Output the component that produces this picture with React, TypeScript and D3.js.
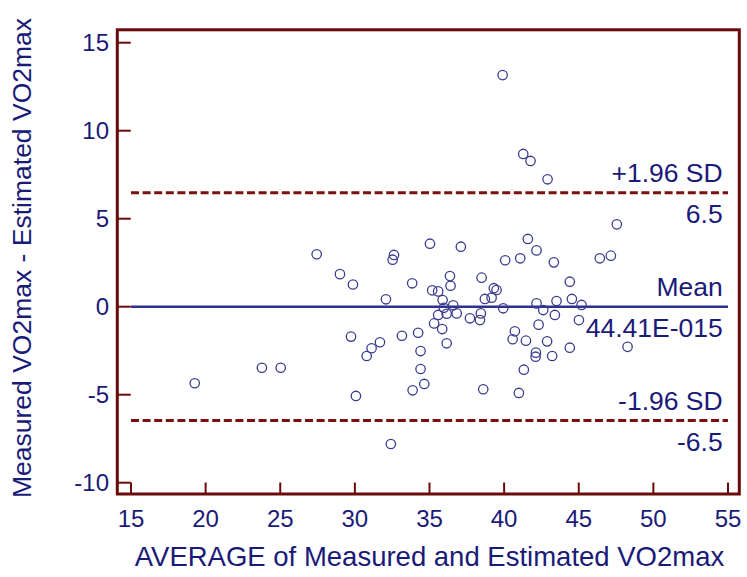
import React from "react";
import * as d3 from "d3";

const meanX: number[] = [39.9, 41.28, 41.77, 42.91, 47.55, 35.03, 37.1, 41.59, 42.17, 40.07, 41.08, 43.33, 46.41, 47.15, 33.84, 36.37, 36.41, 38.49, 35.18, 35.58, 35.88, 36.59, 39.31, 39.49, 38.71, 39.16, 39.94, 44.4, 42.17, 43.51, 44.54, 45.19, 42.62, 43.4, 45.01, 33.15, 34.24, 35.31, 35.85, 35.58, 36.15, 36.82, 37.71, 38.38, 38.44, 36.15, 40.72, 40.57, 41.46, 42.31, 42.88, 44.4, 48.27, 34.4, 34.4, 33.87, 34.65, 38.6, 40.99, 41.32, 42.13, 42.11, 43.22, 29.0, 29.87, 32.53, 32.62, 32.08, 35.96, 29.74, 31.68, 31.12, 30.79, 27.44, 23.77, 25.03, 19.27, 30.07, 32.41];
const diffY: number[] = [13.16, 8.68, 8.28, 7.24, 4.68, 3.58, 3.41, 3.85, 3.2, 2.64, 2.75, 2.52, 2.75, 2.9, 1.33, 1.74, 1.19, 1.65, 0.93, 0.87, 0.38, 0.08, 1.05, 0.95, 0.44, 0.51, -0.09, 1.42, 0.19, 0.32, 0.44, 0.1, -0.19, -0.47, -0.76, -1.65, -1.48, -0.95, -1.27, -0.47, -0.4, -0.38, -0.66, -0.76, -0.38, -2.08, -1.4, -1.85, -1.93, -1.02, -1.97, -2.33, -2.28, -2.52, -3.54, -4.75, -4.39, -4.69, -4.9, -3.58, -2.61, -2.84, -2.8, 1.85, 1.26, 2.67, 2.94, 0.42, -0.06, -1.7, -2.02, -2.36, -2.8, 2.98, -3.47, -3.47, -4.35, -5.07, -7.8];

const xTicks: number[] = [15, 20, 25, 30, 35, 40, 45, 50, 55];
const yTicks: number[] = [-10, -5, 0, 5, 10, 15];

const meanValue = 0;
const upperLoA = 6.47;
const lowerLoA = -6.47;
const refLabels = [
  { value: upperLoA, above: "+1.96 SD", below: "6.5", kind: "sd" },
  { value: meanValue, above: "Mean", below: "44.41E-015", kind: "mean" },
  { value: lowerLoA, above: "-1.96 SD", below: "-6.5", kind: "sd" },
];

const xTitle = "AVERAGE of Measured and Estimated VO2max";
const yTitle = "Measured VO2max - Estimated VO2max";

export default function App() {
  const W = 747;
  const H = 577;
  const x = d3.scaleLinear().domain([15, 55]).range([131, 728]);
  const y = d3.scaleLinear().domain([-10, 15]).range([482.7, 42.7]);
  const frameL = 117.3, frameR = 739.3, frameT = 29.8, frameB = 494;
  const frameColor = "#6b0a0a";
  const textColor = "#1a1a78";
  const font = "'Liberation Sans', Arial, sans-serif";

  return (
    <svg width={W} height={H} style={{ position: "absolute", left: 0, top: 0, background: "#fff" }} fontFamily={font}>
      <rect x={0} y={0} width={W} height={H} fill="#fff" />
      {refLabels.map((r, i) => (
        <line key={"rl" + i} x1={x(15)} x2={x(55)} y1={y(r.value)} y2={y(r.value)}
          stroke={r.kind === "mean" ? "#2e3192" : "#7a1010"}
          strokeWidth={r.kind === "mean" ? 2.6 : 3}
          strokeDasharray={r.kind === "mean" ? undefined : "8,3.6"} />
      ))}
      {refLabels.map((r, i) => (
        <g key={"rt" + i} fill={textColor} fontSize={26.5} textAnchor="end">
          <text x={722.7} y={y(r.value) - 10.5}>{r.above}</text>
          <text x={722.7} y={y(r.value) + 30.3}>{r.below}</text>
        </g>
      ))}
      {meanX.map((v, i) => (
        <circle key={"p" + i} cx={x(v)} cy={y(diffY[i])} r={4.7} fill="none" stroke="#3b3b8f" strokeWidth={1.3} />
      ))}
      <rect x={frameL} y={frameT} width={frameR - frameL} height={frameB - frameT} fill="none" stroke={frameColor} strokeWidth={3} />
      {xTicks.map((t) => (
        <line key={"xt" + t} x1={x(t)} x2={x(t)} y1={frameB} y2={frameB - 11.5} stroke={frameColor} strokeWidth={2} />
      ))}
      {yTicks.map((t) => (
        <line key={"yt" + t} x1={frameL} x2={frameL + 13.5} y1={y(t)} y2={y(t)} stroke={frameColor} strokeWidth={2} />
      ))}
      {xTicks.map((t) => (
        <text key={"xl" + t} x={x(t)} y={527} textAnchor="middle" fontSize={24} fill={textColor}>{t}</text>
      ))}
      {yTicks.map((t) => (
        <text key={"yl" + t} x={109} y={y(t) + 8.5} textAnchor="end" fontSize={24} fill={textColor}>{t}</text>
      ))}
      <text x={429.5} y={566} textAnchor="middle" fontSize={27.5} fill={textColor}>{xTitle}</text>
      <text transform={`translate(31,${258}) rotate(-90)`} textAnchor="middle" fontSize={26.5} fill={textColor}>{yTitle}</text>
    </svg>
  );
}
